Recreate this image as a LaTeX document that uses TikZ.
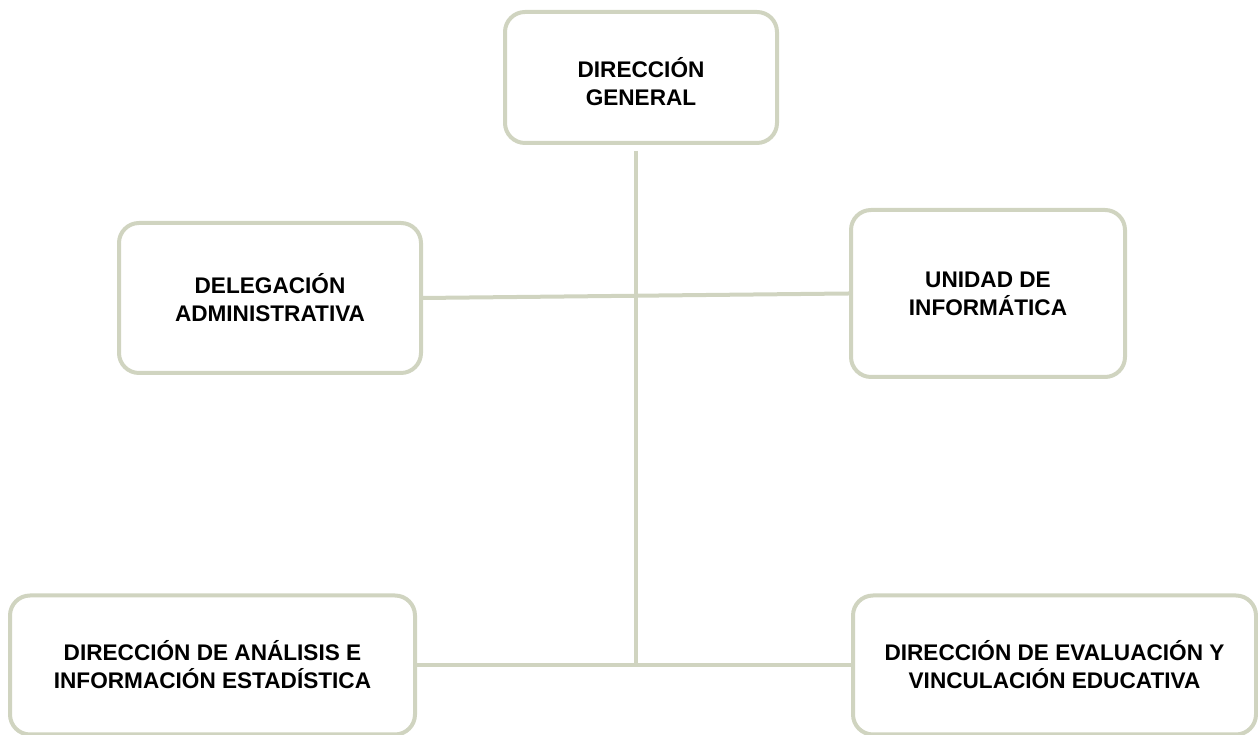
\documentclass[tikz,border=0pt]{standalone}
\usepackage{fontspec}
\setmainfont{Liberation Sans}
\definecolor{boxline}{HTML}{D0D4C0}
\begin{document}
\begin{tikzpicture}[x=1pt,y=1pt,
  orgbox/.style={draw=boxline, line width=4pt, rounded corners=20pt, fill=white,
    align=center, inner sep=0pt, font=\fontsize{22.6}{28}\selectfont\bfseries},
  link/.style={draw=boxline, line width=4pt}]
\useasboundingbox (0,0) rectangle (1258,735);
\node[orgbox, minimum width=272pt, minimum height=131pt] (dg) at (641,657.5) {\rule{0pt}{29pt}DIRECCIÓN\\GENERAL};
\node[orgbox, minimum width=302pt, minimum height=150pt] (da) at (270,437) {DELEGACIÓN\\ADMINISTRATIVA};
\node[orgbox, minimum width=274pt, minimum height=167pt] (ui) at (988,441.5) {UNIDAD DE\\INFORMÁTICA};
\node[orgbox, minimum width=405pt, minimum height=139pt] (daie) at (212.5,70) {DIRECCIÓN DE ANÁLISIS E\\INFORMACIÓN ESTADÍSTICA};
\node[orgbox, minimum width=403pt, minimum height=139pt] (deve) at (1054.5,70) {DIRECCIÓN DE EVALUACIÓN Y\\VINCULACIÓN EDUCATIVA};
\coordinate (vtop) at (636,584);
\coordinate (vbot) at (636,69);
\draw[link] (vtop) -- (vbot);
\draw[link] (da.east) -- (ui.west);
\draw[link] (daie.east) -- (deve.west);
\end{tikzpicture}
\end{document}
